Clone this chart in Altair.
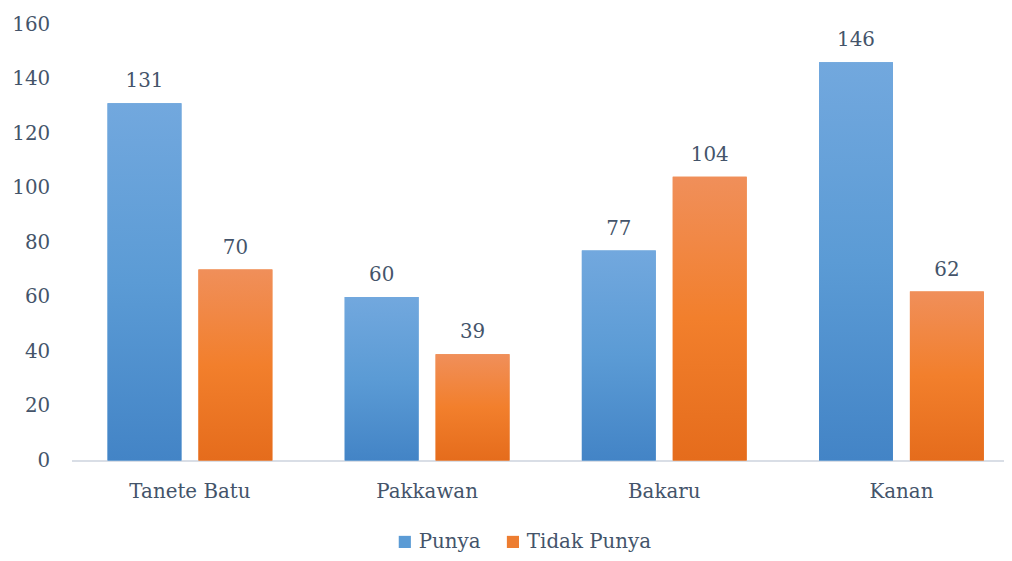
import altair as alt
import pandas as pd

categories = ["Tanete Batu", "Pakkawan", "Bakaru", "Kanan"]
series = ["Punya", "Tidak Punya"]
punya = [131, 60, 77, 146]
tidak_punya = [70, 39, 104, 62]

rows = []
for i, c in enumerate(categories):
    rows.append({"kategori": c, "seri": series[0], "nilai": punya[i]})
    rows.append({"kategori": c, "seri": series[1], "nilai": tidak_punya[i]})
df = pd.DataFrame(rows)

FONT = "DejaVu Serif"
TXT = "#44546a"

blue_grad = alt.Gradient(
    gradient="linear", x1=0, y1=0, x2=0, y2=1,
    stops=[alt.GradientStop(color="#72a8de", offset=0),
           alt.GradientStop(color="#5b9bd5", offset=0.5),
           alt.GradientStop(color="#4384c6", offset=1)])
orange_grad = alt.Gradient(
    gradient="linear", x1=0, y1=0, x2=0, y2=1,
    stops=[alt.GradientStop(color="#f08f5a", offset=0),
           alt.GradientStop(color="#f27f2c", offset=0.5),
           alt.GradientStop(color="#e56c1c", offset=1)])

x_enc = alt.X("kategori:N", sort=categories,
              scale=alt.Scale(paddingInner=0.305, paddingOuter=0.152, range=[0, 956]),
              axis=alt.Axis(title=None, labelAngle=0, labelFont=FONT, labelFontSize=20,
                            labelColor=TXT, labelPadding=21, ticks=False,
                            domainColor="#d9dee6", domainWidth=2))
xoff = alt.XOffset("seri:N", sort=series,
                   scale=alt.Scale(paddingInner=0.187, paddingOuter=0))
y_enc = alt.Y("nilai:Q", scale=alt.Scale(domain=[0, 160]),
              axis=alt.Axis(title=None, values=list(range(0, 161, 20)), grid=False,
                            domain=False, ticks=False, labelFont=FONT, labelFontSize=20,
                            labelColor=TXT, labelPadding=22))

base = alt.Chart(df)

legend_bars = base.mark_bar().encode(
    x=x_enc, xOffset=xoff, y=y_enc,
    color=alt.Color("seri:N", sort=series,
                    scale=alt.Scale(domain=series, range=["#5b9bd5", "#ed7d31"]),
                    legend=alt.Legend(title=None, orient="none", direction="horizontal",
                                      legendX=326, legendY=512, symbolType="square",
                                      symbolSize=150, symbolStrokeWidth=0,
                                      labelFont=FONT, labelFontSize=20, labelColor=TXT,
                                      columnPadding=22, labelOffset=4)))

grad_bars = base.mark_bar().encode(
    x=x_enc, xOffset=xoff, y=y_enc,
    fill=alt.condition(alt.datum.seri == "Punya", alt.value(blue_grad), alt.value(orange_grad)))

labels = base.mark_text(baseline="bottom", dy=-12, font=FONT, fontSize=20, color=TXT).encode(
    x=x_enc, xOffset=xoff, y=y_enc, text=alt.Text("nilai:Q"))

chart = alt.layer(legend_bars, grad_bars, labels).properties(
    width=940, height=440,
    padding={"left": 64, "top": 14, "right": 0, "bottom": 96},
    autosize=alt.AutoSizeParams(type="none"),
    background="white",
).configure_view(strokeWidth=0, stroke="transparent")

chart.save("out.html", embed_options={"renderer": "svg", "actions": False})
